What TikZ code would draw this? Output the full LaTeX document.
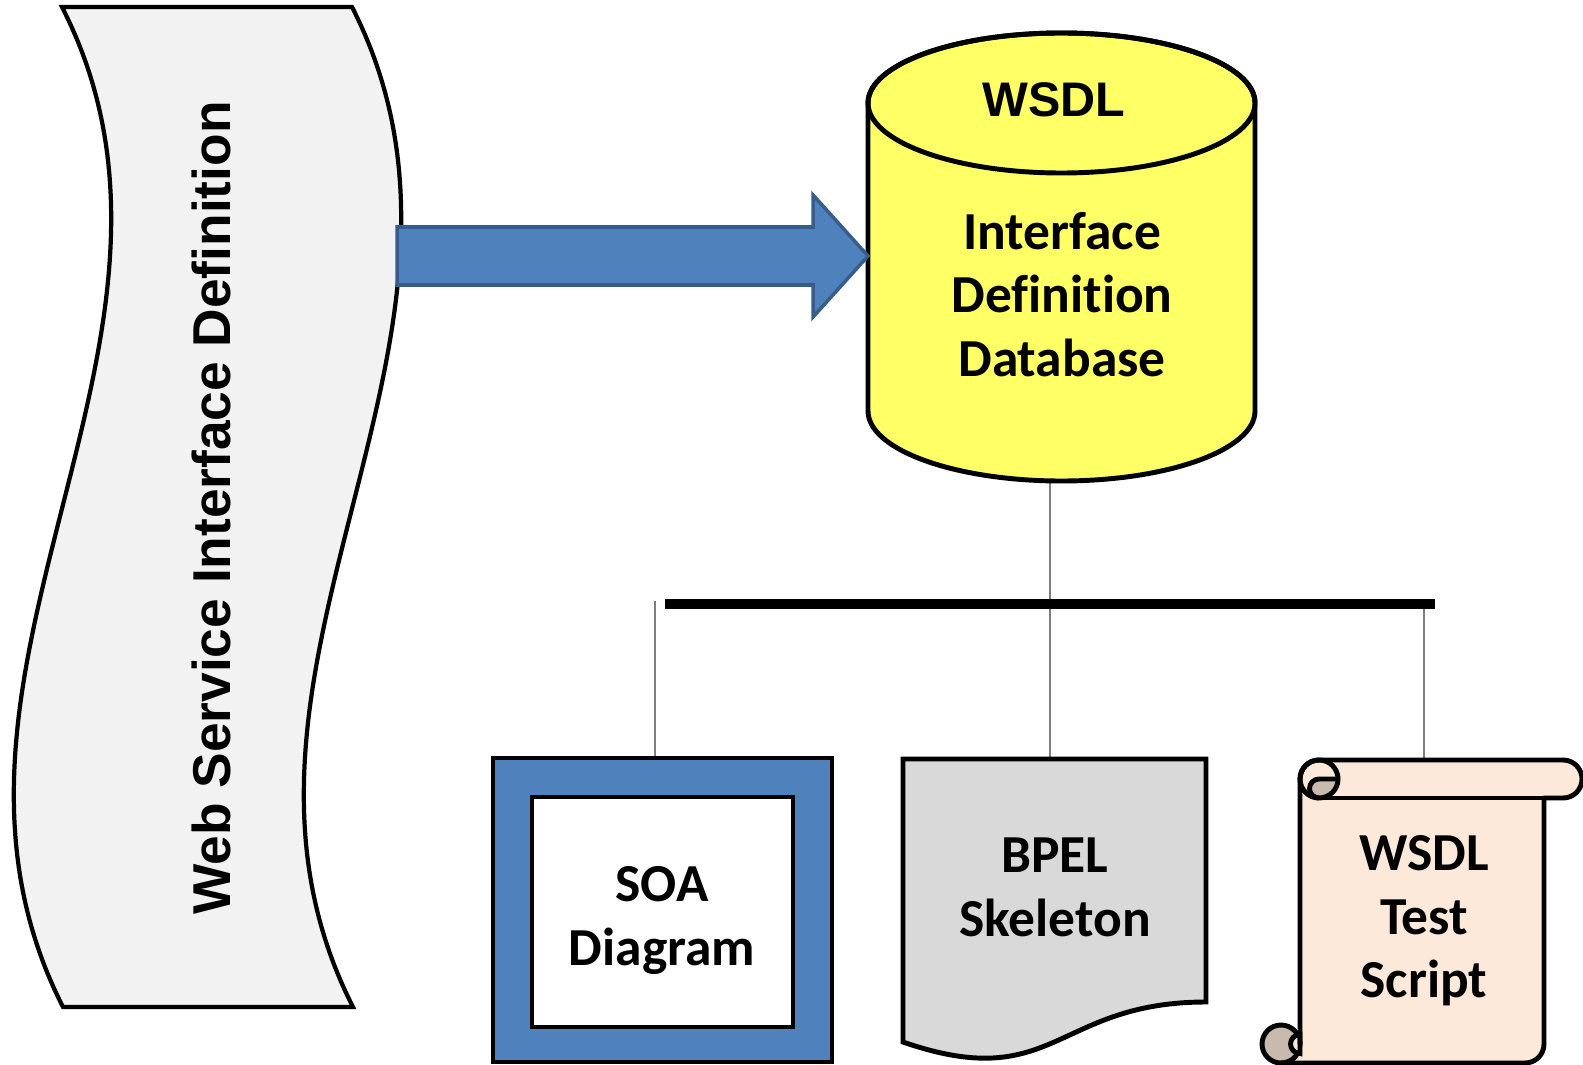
\documentclass[tikz,border=0pt]{standalone}
\usepackage{fontspec}
\setmainfont{Carlito}[Ligatures=NoCommon]
\newfontfamily\headfont{Liberation Sans}
\usetikzlibrary{calc}

\definecolor{waveGray}{HTML}{F2F2F2}
\definecolor{accentBlue}{HTML}{4F81BD}
\definecolor{accentBlueDark}{HTML}{385D8A}
\definecolor{dbYellow}{HTML}{FFFF66}
\definecolor{docGray}{HTML}{D9D9D9}
\definecolor{paper}{HTML}{FDE9DA}
\definecolor{paperDark}{HTML}{C9BAAE}
\definecolor{wireGray}{HTML}{7F7F7F}

\newcommand\boxfont{\fontsize{15.2}{18.1}\selectfont\bfseries}
\newcommand\sidefont{\headfont\fontsize{15.15}{18}\selectfont\bfseries}
\newcommand\titlefont{\headfont\fontsize{13.8}{17}\selectfont\bfseries}

\begin{document}
\begin{tikzpicture}[x=0.01cm, y=-0.01cm,
  shapeline/.style={draw=black, line width=1.4pt},
  txt/.style={align=center, inner sep=0pt},
  wire/.style={draw=wireGray, line width=0.5pt},
]
\useasboundingbox (0,0) rectangle (1583,1064);

% connection points
\coordinate (dbfoot)    at (1050,481);
\coordinate (busL)      at (665,604);
\coordinate (busR)      at (1435,604);
\coordinate (soatop)    at (655,758);
\coordinate (bpeltop)   at (1050,759);
\coordinate (scrolltop) at (1424,760);
\coordinate (atail)     at (397,256);
\coordinate (atip)      at (868,256);

% thin feeders and the distribution bar
\draw[wire] (dbfoot) -- (bpeltop);
\draw[wire] ($(soatop |- busL)+(0,-3)$) -- (soatop);
\draw[wire] ($(scrolltop |- busL)+(0,3)$) -- (scrolltop);
\draw[line width=2.85pt] (busL) -- (busR);

% wavy banner on the left
\path[shapeline, line width=1.2pt, fill=waveGray]
  (62,7) -- (352,7) .. controls (522,340) and (183,673) .. (353,1007)
  -- (63,1007) .. controls (-107,673) and (232,340) .. (62,7) -- cycle;
\node[txt, font=\sidefont, rotate=90] (wsid) at (211,508) {Web Service Interface Definition};

% database cylinder
\path[shapeline, fill=dbYellow]
  (868,103) -- (868,411)
  arc[start angle=180, end angle=0, x radius=193.5, y radius=70]
  -- (1255,103)
  arc[start angle=0, end angle=-180, x radius=193.5, y radius=70] -- cycle;
\draw[shapeline] (1061.5,103) ellipse[x radius=193.5, y radius=70];
\node[txt, font=\titlefont, anchor=base] (dbtitle) at (1054,117) {WSDL};
\node[txt, font=\boxfont] (dbtext) at (1062,300) {\strut Interface\\\strut Definition\\\strut Database};

% block arrow into the database
\path[fill=accentBlue, draw=accentBlueDark, line width=1pt]
  ($(atail)+(0,-29)$) -- ($(atip)+(-55,-29)$) -- ($(atip)+(-55,-61)$) -- (atip)
  -- ($(atip)+(-55,61)$) -- ($(atip)+(-55,29)$) -- ($(atail)+(0,29)$) -- cycle;

% SOA diagram frame
\path[shapeline, fill=accentBlue] (493,758) rectangle (832,1062);
\path[shapeline, fill=white] (532,797) rectangle (793,1027);
\node[txt, font=\boxfont] (soa) at (662,921) {\strut SOA\\\strut Diagram};

% BPEL document
\path[shapeline, fill=docGray]
  (903,759) -- (1206,759) -- (1206,1002)
  .. controls (1055,1002) and (1055,1094.6) .. (903,1042) -- cycle;
\node[txt, font=\boxfont] (bpel) at (1055,892) {\strut BPEL\\\strut Skeleton};

% test script scroll
\path[fill=paper]
  (1300,1044) -- (1300,779) arc[start angle=180, end angle=270, radius=19]
  -- (1563,760) arc[start angle=-90, end angle=90, radius=19]
  -- (1544,798) -- (1544,1044) arc[start angle=0, end angle=90, radius=19]
  -- (1281,1063) -- (1281,1044) -- cycle;
\path[shapeline, fill=paperDark] (1281,1044) circle[radius=19];
\path[shapeline, fill=paper] (1300,1034.5) arc[start angle=-90, end angle=-270, radius=9.5] -- cycle;
\path[fill=paperDark] (1319,779) -- (1338,779) arc[start angle=0, end angle=90, radius=19]
  arc[start angle=90, end angle=270, radius=9.5] -- cycle;
\draw[shapeline] (1319,779) circle[radius=19];
\draw[shapeline] (1319,798) arc[start angle=90, end angle=270, radius=9.5] -- (1338,779);
\draw[shapeline] (1319,798) -- (1544,798);
\draw[shapeline, line join=round]
  (1300,1044) -- (1300,779) arc[start angle=180, end angle=270, radius=19]
  -- (1563,760) arc[start angle=-90, end angle=90, radius=19]
  -- (1544,798) -- (1544,1044) arc[start angle=0, end angle=90, radius=19]
  -- (1281,1063);
\node[txt, font=\boxfont] (wsts) at (1424,921.5) {\strut WSDL\\\strut Test\\\strut Script};
\end{tikzpicture}
\end{document}
